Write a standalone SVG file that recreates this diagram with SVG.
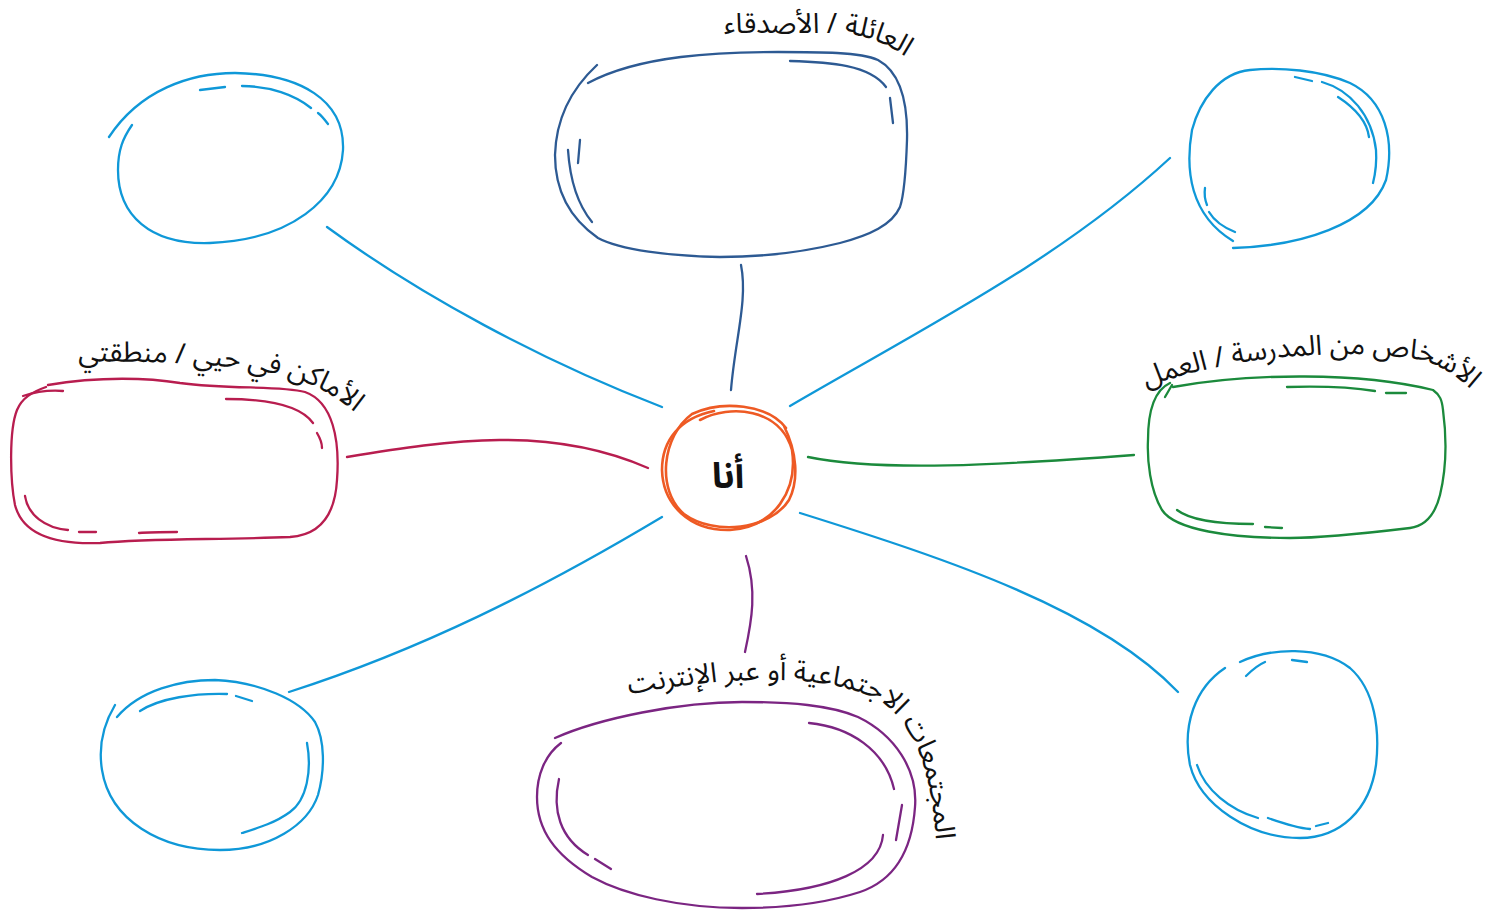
<svg xmlns="http://www.w3.org/2000/svg" width="1491" height="910" viewBox="0 0 1491 910">
<style>
.s{fill:none;stroke-width:2.3;stroke-linecap:round;stroke-linejoin:round}
.blue{stroke:#0f98d8}
.navy{stroke:#2d5a93}
.mag{stroke:#b81d4f}
.grn{stroke:#1b8a3c}
.pur{stroke:#7b2582}
.org{stroke:#ee5a24;stroke-width:2.6}
.lbl{font-family:"Noto Sans Arabic","Noto Sans","DejaVu Sans",sans-serif;font-size:28px;fill:#111}
</style>
<defs>
<path id="pFam" d="M690,33 L840,33 Q888,36 932,78"/>
<path id="pNb" d="M55,362 C150,360 230,364 282,375 Q330,386 372,428"/>
<path id="pWork" d="M1120,398 C1200,360 1330,345 1420,360 Q1458,370 1490,410"/>
<path id="pOn" d="M590,702 C700,678 815,668 878,700 C925,728 936,800 938,880"/>
</defs>
<rect width="1491" height="910" fill="#fff"/>

<g id="connectors">
<path class="s blue" d="M327,227 C420,295 540,360 662,407"/>
<path class="s navy" d="M741,265 C748,300 735,340 731,390"/>
<path class="s blue" d="M1170,158 C1060,260 920,330 790,406"/>
<path class="s mag" d="M347,457 C450,440 550,425 648,468"/>
<path class="s grn" d="M808,457 C880,472 1000,465 1134,455"/>
<path class="s blue" d="M662,517 C540,590 420,650 289,692"/>
<path class="s pur" d="M746,556 C757,590 752,620 745,652"/>
<path class="s blue" d="M800,513 C950,560 1100,610 1178,692"/>
</g>

<g id="center">
<path class="s org" d="M786,428 C768,404 722,400 692,414 C662,436 656,490 684,514 C714,536 770,530 789,500 C799,480 797,452 784,426"/>
<path class="s org" d="M700,420 C730,404 780,408 792,450 C798,490 775,527 730,530 C690,531 663,505 662,470 C662,440 680,418 714,411"/>
<text x="728" y="488" text-anchor="middle" style="font-family:'Noto Sans Arabic','Noto Sans','DejaVu Sans',sans-serif;font-size:36px;font-weight:bold;fill:#111">أنا</text>
</g>

<g id="node-topleft">
<path class="s blue" d="M109,137 C140,90 190,73 235,73 C300,74 345,100 343,150 C340,200 290,240 210,243 C150,245 118,215 118,170 C118,150 123,138 132,125"/>
<path class="s blue" d="M200,90 L225,87"/>
<path class="s blue" d="M242,86 C270,86 295,95 311,108"/>
<path class="s blue" d="M318,113 C322,116 325,120 328,124"/>
</g>

<g id="node-family">
<path class="s navy" d="M588,83 C640,55 720,52 778,52 C820,52 860,52 878,60 C900,72 908,100 907,140 C906,170 904,195 900,207 C892,225 870,235 840,243 C800,253 760,257 720,257 C670,256 620,250 598,238 C565,215 555,185 555,155 C556,120 570,90 597,65"/>
<path class="s navy" d="M790,61 C830,62 870,65 886,87"/>
<path class="s navy" d="M890,98 L893,123"/>
<path class="s navy" d="M580,140 L578,163"/>
<path class="s navy" d="M568,150 C570,180 578,205 592,222"/>
<text class="lbl"><textPath href="#pFam" startOffset="50%" text-anchor="middle">العائلة / الأصدقاء</textPath></text>
</g>

<g id="node-topright">
<path class="s blue" d="M1233,248 C1300,246 1370,225 1386,180 C1395,140 1385,100 1350,83 C1320,70 1280,67 1250,70 C1220,73 1200,100 1192,130 C1185,170 1190,215 1233,241"/>
<path class="s blue" d="M1295,77 L1312,81"/>
<path class="s blue" d="M1322,82 C1350,90 1372,115 1376,150 C1377,165 1375,175 1373,183"/>
<path class="s blue" d="M1338,97 C1355,108 1367,122 1369,137"/>
<path class="s blue" d="M1205,188 C1204,195 1205,200 1207,205"/>
<path class="s blue" d="M1209,212 C1215,222 1225,228 1235,232"/>
</g>

<g id="node-left">
<path class="s mag" d="M48,385 C100,376 150,378 180,383 C230,390 280,385 305,392 C333,402 340,440 337,480 C335,515 320,535 290,537 C220,540 150,538 100,543 C50,545 22,532 15,505 C10,480 9,430 17,410 C22,398 32,392 46,387"/>
<path class="s mag" d="M23,396 C35,392 50,390 63,391"/>
<path class="s mag" d="M226,399 C265,399 300,405 313,423"/>
<path class="s mag" d="M317,433 C320,438 322,443 322,448"/>
<path class="s mag" d="M25,496 C28,515 45,528 68,530"/>
<path class="s mag" d="M79,532 L96,532"/>
<path class="s mag" d="M139,533 C150,532 165,532 177,532"/>
<text class="lbl"><textPath href="#pNb" startOffset="50%" text-anchor="middle">الأماكن في حيي / منطقتي</textPath></text>
</g>

<g id="node-right">
<path class="s grn" d="M1173,387 C1250,373 1360,372 1433,390 C1440,395 1442,400 1443,410 C1447,440 1446,470 1440,495 C1435,515 1425,526 1410,528 C1360,534 1320,538 1290,538 C1230,538 1175,530 1162,510 C1150,490 1147,460 1148,440 C1148,410 1155,390 1170,383"/>
<path class="s grn" d="M1165,397 L1172,385"/>
<path class="s grn" d="M1287,387 C1320,386 1350,387 1375,391"/>
<path class="s grn" d="M1386,393 L1406,393"/>
<path class="s grn" d="M1177,510 C1190,520 1220,524 1253,524"/>
<path class="s grn" d="M1265,527 L1282,528"/>
<text class="lbl"><textPath href="#pWork" startOffset="50%" text-anchor="middle">الأشخاص من المدرسة / العمل</textPath></text>
</g>

<g id="node-bottomleft">
<path class="s blue" d="M117,717 C140,690 180,680 215,680 C260,682 300,700 315,722 C325,740 325,770 318,795 C308,825 270,850 220,850 C160,850 110,820 102,770 C98,745 103,725 115,705"/>
<path class="s blue" d="M140,711 C160,698 195,693 227,694"/>
<path class="s blue" d="M236,696 L252,701"/>
<path class="s blue" d="M307,743 C312,770 307,800 290,812 C275,823 258,828 242,833"/>
</g>

<g id="node-bottom">
<path class="s pur" d="M555,738 C600,718 680,702 742,702 C790,702 830,705 858,717 C895,735 918,770 915,807 C912,850 895,880 860,892 C820,905 780,908 742,908 C680,908 625,895 592,877 C555,855 537,830 537,797 C537,775 545,755 561,743"/>
<path class="s pur" d="M809,723 C850,727 885,750 894,789"/>
<path class="s pur" d="M902,805 L896,840"/>
<path class="s pur" d="M883,835 C880,870 830,890 757,894"/>
<path class="s pur" d="M559,779 C552,810 560,838 588,855"/>
<path class="s pur" d="M595,859 L611,869"/>
<text class="lbl"><textPath href="#pOn" startOffset="50%" text-anchor="middle">المجتمعات الاجتماعية أو عبر الإنترنت</textPath></text>
</g>

<g id="node-bottomright">
<path class="s blue" d="M1240,662 C1270,648 1320,645 1350,668 C1375,690 1380,730 1376,765 C1370,810 1340,838 1300,838 C1250,838 1200,805 1190,765 C1182,725 1195,688 1225,668"/>
<path class="s blue" d="M1246,676 C1252,670 1258,665 1265,662"/>
<path class="s blue" d="M1292,660 L1307,662"/>
<path class="s blue" d="M1197,765 C1205,790 1230,810 1258,818"/>
<path class="s blue" d="M1268,818 C1285,824 1298,828 1310,829"/>
<path class="s blue" d="M1316,826 L1328,823"/>
</g>
</svg>
